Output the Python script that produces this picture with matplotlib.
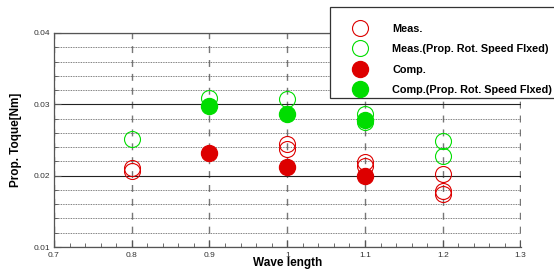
import matplotlib
matplotlib.use('Agg')
import matplotlib.pyplot as plt
from matplotlib.patches import Rectangle
import numpy as np

plt.rcParams['font.family'] = ['Liberation Sans', 'DejaVu Sans']

# 計測値
meas_x = [0.8, 0.8, 1.0, 1.0, 1.1, 1.1, 1.2, 1.2, 1.2]
meas_y = [0.0211, 0.0206, 0.0245, 0.0238, 0.0219, 0.0214, 0.0202, 0.0178, 0.0174]
meas_fix_x = [0.8, 0.9, 1.0, 1.1, 1.1, 1.2, 1.2]
meas_fix_y = [0.0252, 0.0309, 0.0307, 0.0286, 0.0275, 0.0248, 0.0227]
# 計算値
comp_x = [0.9, 1.0, 1.1]
comp_y = [0.0232, 0.0212, 0.0200]
comp_fix_x = [0.9, 1.0, 1.1]
comp_fix_y = [0.0298, 0.0287, 0.0278]

labels = ['Meas.', 'Meas.(Prop. Rot. Speed FIxed)', 'Comp.', 'Comp.(Prop. Rot. Speed FIxed)']
x_ticks = [0.7, 0.8, 0.9, 1.0, 1.1, 1.2, 1.3]
x_ticklabels = ['0.7', '0.8', '0.9', '1', '1.1', '1.2', '1.3']
y_ticks = [0.01, 0.02, 0.03, 0.04]
y_ticklabels = ['0.01', '0.02', '0.03', '0.04']

W, H = 554, 269
fig = plt.figure(figsize=(W / 100, H / 100), dpi=100)
ax = fig.add_axes([54 / W, 22 / H, 466.5 / W, 214 / H])

red = '#dd0000'
green = '#00dd00'
ms = 11.5
h1, = ax.plot(meas_x, meas_y, 'o', ms=ms, mfc='none', mec=red, mew=0.8, zorder=4)
h2, = ax.plot(meas_fix_x, meas_fix_y, 'o', ms=ms, mfc='none', mec=green, mew=0.8, zorder=4)
h3, = ax.plot(comp_x, comp_y, 'o', ms=ms, color=red, mec=red, zorder=5)
h4, = ax.plot(comp_fix_x, comp_fix_y, 'o', ms=ms, color=green, mec=green, zorder=5)

ax.set_xlim(0.7, 1.3)
ax.set_ylim(0.01, 0.04)
ax.set_xticks(x_ticks)
ax.set_xticklabels(x_ticklabels)
ax.set_yticks(y_ticks)
ax.set_yticklabels(y_ticklabels)
ax.set_xticks(np.arange(0.72, 1.3, 0.02), minor=True)
ax.set_yticks(np.arange(0.012, 0.04, 0.002), minor=True)

ax.tick_params(which='both', direction='in', labelsize=6, colors='#555555',
               labelcolor='#333333', top=False, right=False)
ax.tick_params(which='major', length=5, width=0.8)
ax.tick_params(which='minor', length=3, width=0.6)
ax.tick_params(axis='x', pad=3.5)
ax.tick_params(axis='y', pad=3)

# グリッド
ax.grid(True, which='major', axis='x', color='#777777', linestyle=(0, (5, 5)), linewidth=1.0)
ax.grid(True, which='minor', axis='y', color='#555555', linestyle=(0, (1, 1)), linewidth=0.6)
ax.grid(True, which='major', axis='y', color='#222222', linestyle='-', linewidth=0.8)

for s in ['left', 'bottom', 'top']:
    ax.spines[s].set_color('#555555')
    ax.spines[s].set_linewidth(0.9)
ax.spines['right'].set_visible(False)

ax.set_xlabel('Wave length', fontsize=8.5, fontweight='bold', labelpad=-1)
ax.set_ylabel('Prop. Toque[Nm]', fontsize=8.5, fontweight='bold', labelpad=8)

# 凡例の枠（右端は図の外まで伸びる）
box = Rectangle((330 / W, 1 - 98 / H), 240 / W, 91 / H, transform=fig.transFigure,
                facecolor='white', edgecolor='#333333', linewidth=0.9, zorder=3)
fig.patches.append(box)

leg = fig.legend([h1, h2, h3, h4], labels, loc='upper left',
                 bbox_to_anchor=(349 / W, 1 - 24 / H),
                 frameon=False, prop={'size': 7.8, 'weight': 'bold'},
                 labelspacing=0.95, handletextpad=2.0, handlelength=2.0,
                 borderpad=0, borderaxespad=0)
leg.set_zorder(6)

fig.savefig('out.png', dpi=100)
